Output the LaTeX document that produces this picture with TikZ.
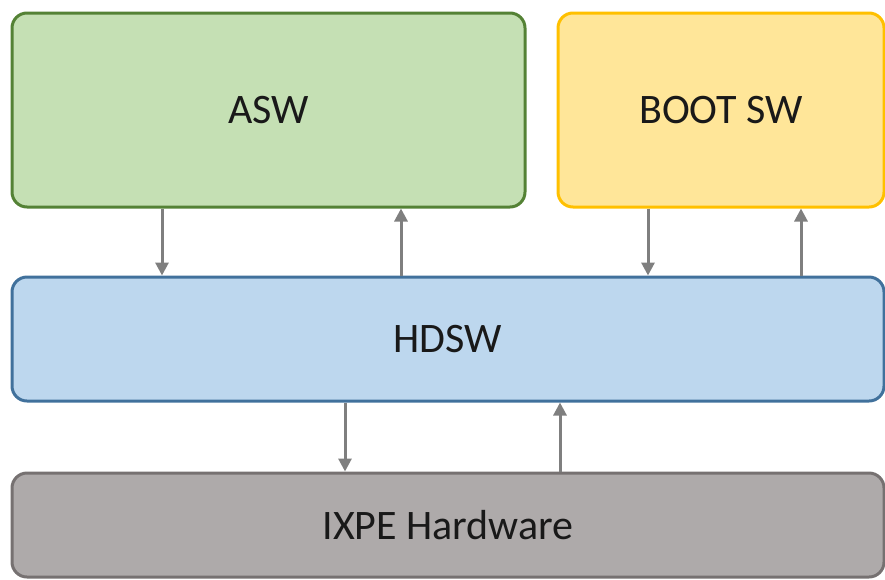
\documentclass[tikz,border=0pt]{standalone}
\usepackage{fontspec}
\setmainfont{Carlito}
\usetikzlibrary{arrows.meta,positioning}

\definecolor{aswfill}{HTML}{C5E0B4}
\definecolor{aswline}{HTML}{548235}
\definecolor{bootfill}{HTML}{FFE699}
\definecolor{bootline}{HTML}{FFC000}
\definecolor{hdswfill}{HTML}{BDD7EE}
\definecolor{hdswline}{HTML}{41719C}
\definecolor{hwfill}{HTML}{AEAAAA}
\definecolor{hwline}{HTML}{767171}
\definecolor{linkgray}{HTML}{7F7F7F}

\tikzset{
  layer/.style={draw, rounded corners=15pt, line width=3pt, text=black!90,
    font=\fontsize{42}{50}\selectfont},
  link/.style={-{Triangle[length=13pt,width=13pt]}, draw=linkgray, line width=3pt}
}

\begin{document}
\begin{tikzpicture}[x=1pt,y=-1pt]
  \useasboundingbox (0,0) rectangle (885,579);
  % software layers
  \node[layer, fill=aswfill, draw=aswline, minimum width=513pt, minimum height=194pt]
    (asw) at (268.5,110) {ASW};
  \node[layer, fill=bootfill, draw=bootline, minimum width=326pt, minimum height=194pt]
    (boot) at (721,110) {BOOT SW};
  \node[layer, fill=hdswfill, draw=hdswline, minimum width=872pt, minimum height=124pt]
    (hdsw) at (448,339) {HDSW};
  \node[layer, fill=hwfill, draw=hwline, minimum width=872pt, minimum height=104pt]
    (hw) at (448,525) {IXPE Hardware};

  % data flow
  \draw[link] ([xshift=-106.5pt]asw.south) -- ([xshift=-106.5pt]asw.south |- hdsw.north);
  \draw[link] ([xshift=132.5pt]asw.south |- hdsw.north) -- ([xshift=132.5pt]asw.south);
  \draw[link] ([xshift=-73pt]boot.south) -- ([xshift=-73pt]boot.south |- hdsw.north);
  \draw[link] ([xshift=80pt]boot.south |- hdsw.north) -- ([xshift=80pt]boot.south);
  \draw[link] ([xshift=-103pt]hdsw.south) -- ([xshift=-103pt]hdsw.south |- hw.north);
  \draw[link] ([xshift=112pt]hdsw.south |- hw.north) -- ([xshift=112pt]hdsw.south);
\end{tikzpicture}
\end{document}
